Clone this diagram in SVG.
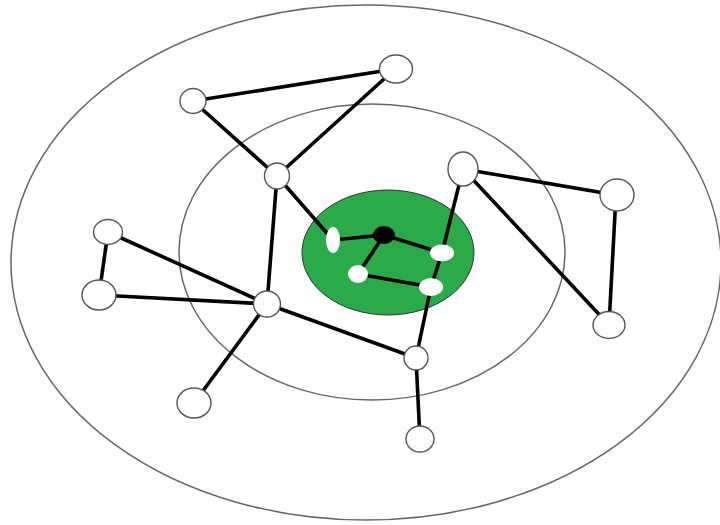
<svg xmlns="http://www.w3.org/2000/svg" width="720" height="525" viewBox="0 0 720 525">
<style>
.ring{fill:none;stroke:#666;stroke-width:1.5}
.e{stroke:#000;stroke-width:3.6;stroke-linecap:round;fill:none}
.n{fill:#fff;stroke:#555;stroke-width:1.4}
.g{fill:#fff;stroke:none}
</style>
<rect width="720" height="525" fill="#fff"/>
<g id="rings">
<ellipse class="ring" cx="366" cy="262.5" rx="355" ry="257.5"/>
<ellipse class="ring" cx="372" cy="252" rx="193" ry="148"/>
<ellipse id="core" cx="388" cy="252.5" rx="86" ry="62.5" fill="#2aaa48" stroke="#333" stroke-width="1"/>
</g>
<g id="connectors">
<line class="e" x1="193" y1="101" x2="395" y2="69"/>
<line class="e" x1="395" y1="69" x2="277" y2="176"/>
<line class="e" x1="193" y1="101" x2="277" y2="176"/>
<line class="e" x1="277" y1="176" x2="267" y2="304"/>
<line class="e" x1="277" y1="176" x2="333" y2="240"/>
<line class="e" x1="333" y1="240" x2="384" y2="235"/>
<line class="e" x1="384" y1="235" x2="442" y2="253"/>
<line class="e" x1="384" y1="235" x2="358" y2="274"/>
<line class="e" x1="358" y1="274" x2="431" y2="287"/>
<line class="e" x1="442" y1="253" x2="431" y2="287"/>
<line class="e" x1="442" y1="253" x2="463" y2="169"/>
<line class="e" x1="463" y1="169" x2="616" y2="195"/>
<line class="e" x1="616" y1="195" x2="609" y2="325"/>
<line class="e" x1="463" y1="169" x2="609" y2="325"/>
<line class="e" x1="431" y1="287" x2="416" y2="358"/>
<line class="e" x1="416" y1="358" x2="420" y2="440"/>
<line class="e" x1="267" y1="304" x2="416" y2="358"/>
<line class="e" x1="108" y1="232" x2="99" y2="295"/>
<line class="e" x1="108" y1="232" x2="267" y2="304"/>
<line class="e" x1="99" y1="295" x2="267" y2="304"/>
<line class="e" x1="267" y1="304" x2="194" y2="403"/>
</g>
<g id="nA"><ellipse class="n" cx="193" cy="101" rx="13" ry="12.5"/></g>
<g id="nB"><ellipse class="n" cx="396" cy="69" rx="16.5" ry="14"/></g>
<g id="nC"><ellipse class="n" cx="277" cy="176" rx="12.5" ry="13"/></g>
<g id="nD"><ellipse class="n" cx="463" cy="169" rx="15" ry="17"/></g>
<g id="nE"><ellipse class="n" cx="617" cy="195" rx="17" ry="16"/></g>
<g id="nF"><ellipse class="n" cx="108" cy="232" rx="14.5" ry="12.5"/></g>
<g id="nG"><ellipse class="n" cx="99" cy="295" rx="17" ry="15"/></g>
<g id="nH"><ellipse class="n" cx="267" cy="304" rx="13.5" ry="13"/></g>
<g id="nI"><ellipse class="g" cx="333" cy="240" rx="7" ry="13"/></g>
<g id="nJ"><ellipse cx="384" cy="235" rx="11" ry="9" fill="#000"/></g>
<g id="nK"><ellipse class="g" cx="442" cy="253" rx="12" ry="8.5"/></g>
<g id="nL"><ellipse class="g" cx="358" cy="274" rx="10" ry="9"/></g>
<g id="nM"><ellipse class="g" cx="431" cy="287" rx="12" ry="9"/></g>
<g id="nN"><ellipse class="n" cx="609" cy="325" rx="16" ry="13.5"/></g>
<g id="nO"><ellipse class="n" cx="416" cy="358" rx="12" ry="12"/></g>
<g id="nP"><ellipse class="n" cx="194" cy="403" rx="17" ry="15"/></g>
<g id="nQ"><ellipse class="n" cx="420" cy="439" rx="14" ry="13"/></g>
</svg>
